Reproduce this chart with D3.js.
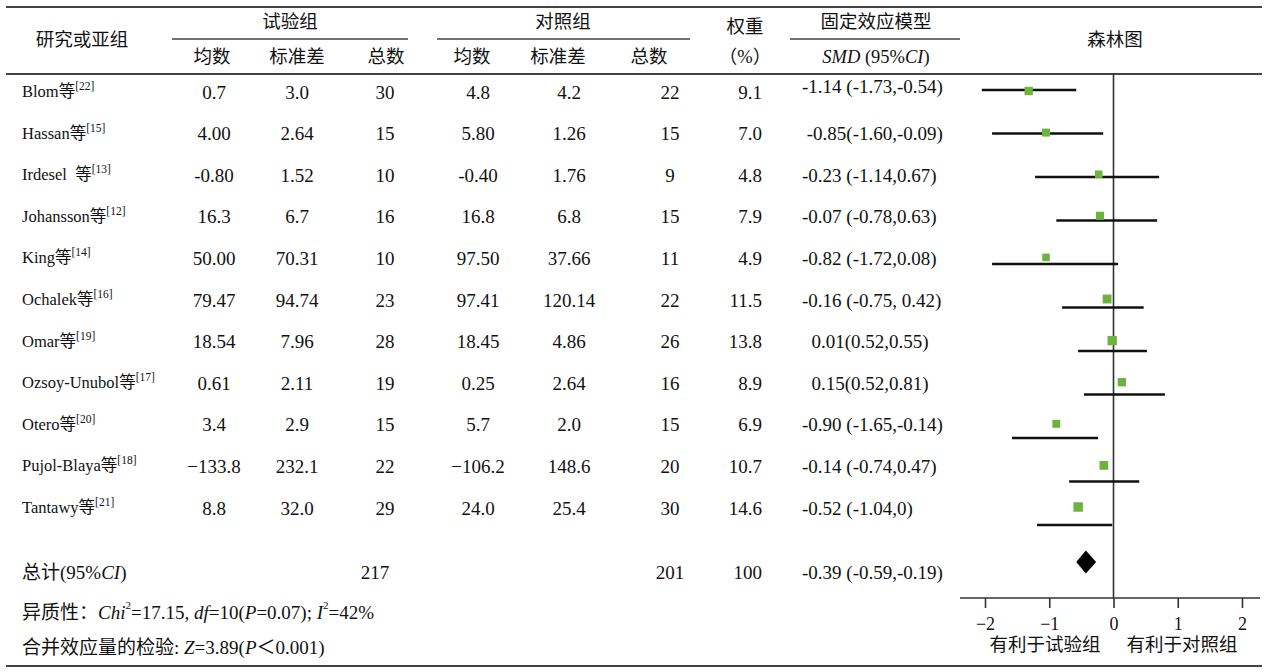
<!DOCTYPE html>
<html><head><meta charset="utf-8">
<script src="https://cdn.jsdelivr.net/npm/d3@7/dist/d3.min.js"></script>
<style>
html,body{margin:0;padding:0;background:#fff;}
svg text{font-family:"Liberation Serif","Times New Roman","Noto Sans CJK SC",serif;fill:#111;white-space:pre;}
</style></head>
<body><svg id="c" width="1268" height="672"></svg>
<script>
// ---- data ----
const studies = ["Blom","Hassan","Irdesel  ","Johansson","King","Ochalek","Omar","Ozsoy-Unubol","Otero","Pujol-Blaya","Tantawy"];
const refs = ["22","15","13","12","14","16","19","17","20","18","21"];
const expMean = ["0.7","4.00","-0.80","16.3","50.00","79.47","18.54","0.61","3.4","\u2212133.8","8.8"];
const expSD = ["3.0","2.64","1.52","6.7","70.31","94.74","7.96","2.11","2.9","232.1","32.0"];
const expN = [30,15,10,16,10,23,28,19,15,22,29];
const ctlMean = ["4.8","5.80","-0.40","16.8","97.50","97.41","18.45","0.25","5.7","\u2212106.2","24.0"];
const ctlSD = ["4.2","1.26","1.76","6.8","37.66","120.14","4.86","2.64","2.0","148.6","25.4"];
const ctlN = [22,15,9,15,11,22,26,16,15,20,30];
const weights = [9.1,7.0,4.8,7.9,4.9,11.5,13.8,8.9,6.9,10.7,14.6];
const smdText = ["-1.14 (-1.73,-0.54)"," -0.85(-1.60,-0.09)","-0.23 (-1.14,0.67)","-0.07 (-0.78,0.63)","-0.82 (-1.72,0.08)","-0.16 (-0.75, 0.42)","  0.01(0.52,0.55)","  0.15(0.52,0.81)","-0.90 (-1.65,-0.14)","-0.14 (-0.74,0.47)","-0.52 (-1.04,0)"];
// positions of the marks as drawn in the picture (SMD units)
const plotSMD  = [-1.32,-1.05,-0.23,-0.21,-1.05,-0.10,-0.02,0.13,-0.89,-0.15,-0.55];
const plotLow  = [-2.05,-1.89,-1.22,-0.89,-1.89,-0.80,-0.55,-0.46,-1.58,-0.69,-1.19];
const plotHigh = [-0.58,-0.16,0.71,0.68,0.07,0.47,0.52,0.80,-0.24,0.40,-0.02];
const totalExpN = 217, totalCtlN = 201, totalWeight = "100";
const totalSMDText = "-0.39 (-0.59,-0.19)";
const totalDiamond = [-0.58,-0.43,-0.27]; // low, mid, high as drawn
const tickValues = [-2,-1,0,1,2];
const tickLabels = ["\u22122","\u22121","0","1","2"];

// ---- layout ----
const svg = d3.select("#c");
const idx = d3.range(studies.length);
const yRow = d3.scalePoint().domain(idx).range([92,508]);
const yLine = d3.scalePoint().domain(idx).range([90,525]);
const x = d3.scaleLinear().domain([-2,2]).range([985,1242]);
const sq = d3.scaleLinear().domain([4.8,14.6]).range([7.5,9.5]);
const totalY = 572;

function line(x1,y1,x2,y2,w,c){svg.append("line").attr("x1",x1).attr("y1",y1).attr("x2",x2).attr("y2",y2).attr("stroke",c||"#333").attr("stroke-width",w||1.5);}
function txt(s,xp,yp,anchor,size,g){return (g||svg).append("text").attr("x",xp).attr("y",yp).attr("text-anchor",anchor||"middle").attr("dominant-baseline","central").attr("font-size",size||19).text(s);}

// rules
line(6,7,1262,7,2,"#444");
line(6,74,1262,74,1.8,"#444");
line(6,666,1262,666,1.8,"#444");
line(172,39,408,39,1.5,"#444");
line(437,39,690,39,1.5,"#444");
line(790,39,960,39,1.5,"#444");

// headers
txt("研究或亚组",82,40,"middle",18.5);
txt("试验组",290,22,"middle",18.5);
txt("均数",212,57,"middle",18.5);
txt("标准差",297,57,"middle",18.5);
txt("总数",386,57,"middle",18.5);
txt("对照组",563,22,"middle",18.5);
txt("均数",472,57,"middle",18.5);
txt("标准差",558,57,"middle",18.5);
txt("总数",649,57,"middle",18.5);
txt("权重",745,27,"middle",18.5);
txt("（%）",745,57,"middle",18.5);
txt("固定效应模型",876,22,"middle",18.5);
const smdH = txt("",876,57,"middle",18.5);
smdH.append("tspan").attr("font-style","italic").text("SMD");
smdH.append("tspan").text(" (95%");
smdH.append("tspan").attr("font-style","italic").text("CI");
smdH.append("tspan").text(")");
txt("森林图",1115,40,"middle",18.5);

// rows
const rows = svg.append("g");
idx.forEach(i=>{
  const y = yRow(i);
  const t = rows.append("text").attr("x",22).attr("y",y-1).attr("dominant-baseline","central").attr("font-size",16.5);
  t.append("tspan").text(studies[i]+"等");
  t.append("tspan").attr("font-size",11.5).attr("dy",-5).text("["+refs[i]+"]");
  txt(expMean[i],214,y,"middle",19,rows);
  txt(expSD[i],297,y,"middle",19,rows);
  txt(expN[i],385,y,"middle",19,rows);
  txt(ctlMean[i],478,y,"middle",19,rows);
  txt(ctlSD[i],569,y,"middle",19,rows);
  txt(ctlN[i],670,y,"middle",19,rows);
  txt(weights[i].toFixed(1),762,y,"end",19,rows);
  txt(smdText[i],802,i===0?y-6:y,"start",19,rows);
});

// total & footers
txt("",22,totalY,"start",19).call(t=>{t.append("tspan").text("总计(95%");t.append("tspan").attr("font-style","italic").text("CI");t.append("tspan").text(")");});
txt(totalExpN,375,totalY,"middle",19);
txt(totalCtlN,670,totalY,"middle",19);
txt(totalWeight,762,totalY,"end",19);
txt(totalSMDText,802,totalY,"start",19);

const h = txt("",22,612,"start",19);
h.append("tspan").text("异质性：");
h.append("tspan").attr("font-style","italic").text("Chi");
h.append("tspan").attr("font-size",11).attr("dy",-7).text("2");
h.append("tspan").attr("dy",7).text("=17.15, ");
h.append("tspan").attr("font-style","italic").text("df");
h.append("tspan").text("=10(");
h.append("tspan").attr("font-style","italic").text("P");
h.append("tspan").text("=0.07); ");
h.append("tspan").attr("font-style","italic").text("I");
h.append("tspan").attr("font-size",11).attr("dy",-7).text("2");
h.append("tspan").attr("dy",7).text("=42%");

const z = txt("",22,647,"start",19);
z.append("tspan").text("合并效应量的检验: ");
z.append("tspan").attr("font-style","italic").text("Z");
z.append("tspan").text("=3.89(");
z.append("tspan").attr("font-style","italic").text("P");
z.append("tspan").text("＜0.001)");

// forest plot
const fp = svg.append("g");
fp.append("line").attr("x1",x(0)).attr("x2",x(0)).attr("y1",74).attr("y2",598).attr("stroke","#333").attr("stroke-width",1.6);
fp.selectAll("line.ci").data(idx).join("line").attr("class","ci")
  .attr("x1",i=>x(plotLow[i])).attr("x2",i=>x(plotHigh[i]))
  .attr("y1",i=>yLine(i)).attr("y2",i=>yLine(i))
  .attr("stroke","#111").attr("stroke-width",2.6);
fp.selectAll("rect.pt").data(idx).join("rect").attr("class","pt")
  .attr("x",i=>x(plotSMD[i])-sq(weights[i])/2)
  .attr("y",i=>yRow(i)-sq(weights[i])/2-1)
  .attr("width",i=>sq(weights[i])).attr("height",i=>sq(weights[i]))
  .attr("fill","#6db33f");
const dh = 11.5;
fp.append("path").attr("d",`M${x(totalDiamond[0])},${totalY-10}L${x(totalDiamond[1])},${totalY-10-dh}L${x(totalDiamond[2])},${totalY-10}L${x(totalDiamond[1])},${totalY-10+dh}Z`).attr("fill","#000");

// axis
const ax = svg.append("g").attr("transform","translate(0,598)")
  .call(d3.axisBottom(x).tickValues(tickValues).tickSize(10).tickPadding(9).tickFormat((d,i)=>tickLabels[i]));
ax.select(".domain").remove();
ax.selectAll(".tick line").attr("stroke","#333").attr("stroke-width",1.6);
ax.selectAll(".tick text").attr("font-size",18).attr("font-family","Liberation Serif").attr("fill","#1a1a1a");
line(960,598,1260,598,1.6,"#333");
txt("有利于试验组",1045,645,"middle",18.5);
txt("有利于对照组",1182,645,"middle",18.5);
</script></body></html>
